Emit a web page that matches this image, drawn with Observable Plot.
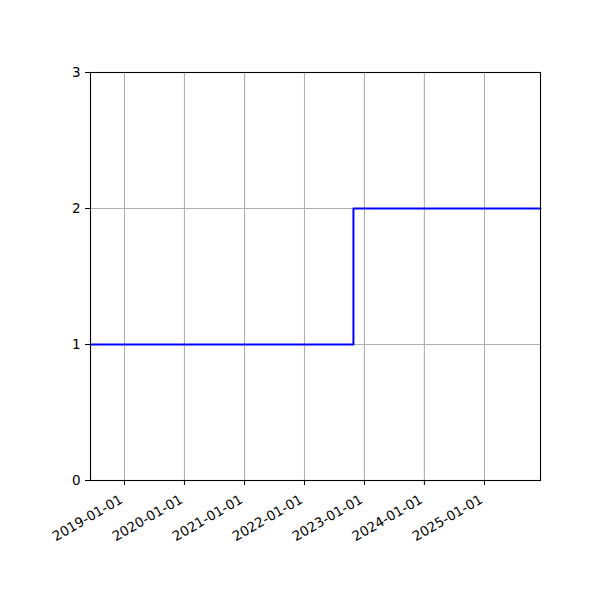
<!DOCTYPE html>
<html>
<head>
<meta charset="utf-8">
<script src="https://cdn.jsdelivr.net/npm/d3@7"></script>
<script src="https://cdn.jsdelivr.net/npm/@observablehq/plot@0.6"></script>
<style>
  body { margin: 0; background: #fff; }
  svg { font-family: "DejaVu Sans", sans-serif; }
</style>
</head>
<body>
<div id="chart"></div>
<script>
const dates = ["2018-06-08", "2022-10-26", "2025-12-08"];
const values = [1, 2, 2];
const xTicks = ["2019-01-01", "2020-01-01", "2021-01-01", "2022-01-01", "2023-01-01", "2024-01-01", "2025-01-01"];
const yTicks = [0, 1, 2, 3];

const data = dates.map((d, i) => ({date: new Date(d + "T00:00:00Z"), value: values[i]}));
const xDomain = [new Date(dates[0] + "T00:00:00Z"), new Date(dates[dates.length - 1] + "T00:00:00Z")];
const xTickDates = xTicks.map(t => new Date(t + "T00:00:00Z"));

const chart = Plot.plot({
  width: 600,
  height: 600,
  marginLeft: 90,
  marginRight: 60,
  marginTop: 72,
  marginBottom: 120,
  style: {fontFamily: "DejaVu Sans, sans-serif", fontSize: "13.5px", color: "#000", background: "#fff"},
  x: {type: "utc", domain: xDomain},
  y: {domain: [0, 3]},
  marks: [
    Plot.gridX(xTickDates, {stroke: "#b0b0b0", strokeOpacity: 1, strokeWidth: 1.1}),
    Plot.gridY(yTicks, {stroke: "#b0b0b0", strokeOpacity: 1, strokeWidth: 1.1}),
    Plot.line(data, {x: "date", y: "value", curve: "step-after", stroke: "#0000ff", strokeWidth: 2}),
    Plot.frame({stroke: "#000", strokeWidth: 1.1}),
    Plot.axisX(xTickDates, {
      tickSize: 5, text: null, label: null, stroke: "#000"
    }),
    Plot.axisX(xTickDates, {
      tickSize: 0, tickPadding: 16, tickRotate: -30, dx: -3, dy: 2,
      tickFormat: d3.utcFormat("%Y-%m-%d"),
      fontSize: 13.5, label: null, fill: "#000"
    }),
    Plot.axisY(yTicks, {
      tickSize: 5, tickPadding: 5, tickFormat: d3.format("d"), fontSize: 13.5, label: null, stroke: "#000", fill: "#000"
    })
  ]
});
document.getElementById("chart").appendChild(chart);
</script>
</body>
</html>
